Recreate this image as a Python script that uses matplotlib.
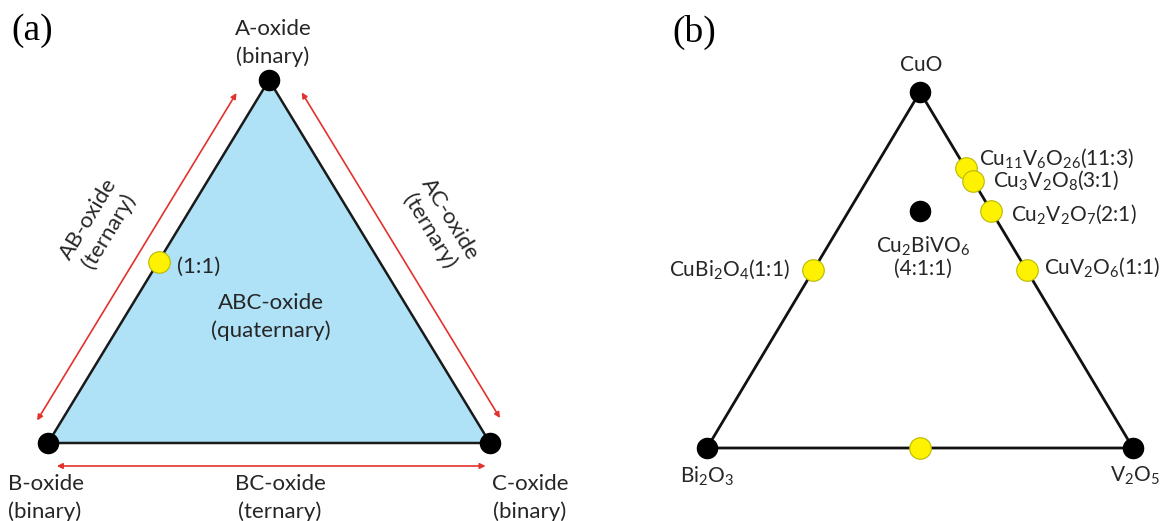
import numpy as np
import matplotlib
matplotlib.use("Agg")
import matplotlib.pyplot as plt
from matplotlib.patches import Polygon

plt.rcParams['font.family'] = ['Lato', 'DejaVu Sans']
plt.rcParams['mathtext.default'] = 'regular'

# panel (a): generic A-B-C oxide system
a_vertex_labels = ["A-oxide\n(binary)", "B-oxide\n(binary)", "C-oxide\n(binary)"]
a_edge_labels = ["AB-oxide\n(ternary)", "AC-oxide\n(ternary)", "BC-oxide\n(ternary)"]
a_center_label = "ABC-oxide\n(quaternary)"
a_point = (1, 1, 0)          # A:B:C
a_point_label = "(1:1)"

# panel (b): CuO - Bi2O3 - V2O5 (fractions CuO : Bi2O3 : V2O5)
b_vertex_labels = ["CuO", "Bi$_2$O$_3$", "V$_2$O$_5$"]
b_comps = [(11, 0, 3), (3, 0, 1), (2, 0, 1), (1, 0, 1), (1, 1, 0), (0, 1, 1)]
b_labels = [r"Cu$_{11}$V$_6$O$_{26}$(11:3)", r"Cu$_3$V$_2$O$_8$(3:1)",
            r"Cu$_2$V$_2$O$_7$(2:1)", r"CuV$_2$O$_6$(1:1)",
            r"CuBi$_2$O$_4$(1:1)", ""]
b_quat = (4, 1, 1)
b_quat_label = "Cu$_2$BiVO$_6$\n(4:1:1)"

H = np.sqrt(3) / 2
TXT = '#262626'
RED = '#E3312D'
YEL = '#FFF200'
FSA = 16
FSB = 15


def tern(comp):
    a, b, c = np.array(comp, dtype=float) / sum(comp)
    # a = top, b = bottom left, c = bottom right
    return np.array([c + 0.5 * a, a * H])


fig = plt.figure(figsize=(11.63, 5.21), dpi=100)
W, Hp = 1163, 521


def make_ax(x0, x1, ytop, ybot):
    ax = fig.add_axes([x0 / W, (Hp - ybot) / Hp, (x1 - x0) / W, (ybot - ytop) / Hp])
    ax.set_xlim(0, 1)
    ax.set_ylim(0, H)
    ax.axis('off')
    return ax


axa = make_ax(48, 490, 80, 443)
axb = make_ax(707, 1133, 92, 448)

verts = [tern((1, 0, 0)), tern((0, 1, 0)), tern((0, 0, 1))]


def px(ax, p):
    return ax.transData.transform(p)


def outward(ax, p0, p1):
    q0, q1 = px(ax, p0), px(ax, p1)
    d = (q1 - q0) / np.hypot(*(q1 - q0))
    n = np.array([-d[1], d[0]])
    cen = px(ax, tern((1, 1, 1)))
    if np.dot(n, (q0 + q1) / 2 - cen) < 0:
        n = -n
    return q0, q1, d, n


def edge_arrow(ax, p0, p1, t0, t1, off):
    q0, q1, d, n = outward(ax, p0, p1)
    s = q0 + (q1 - q0) * t0 + n * off
    e = q0 + (q1 - q0) * t1 + n * off
    ax.annotate('', xy=e, xytext=s, xycoords='figure pixels', textcoords='figure pixels',
                arrowprops=dict(arrowstyle='<|-|>', color=RED, lw=1.2,
                                mutation_scale=8, shrinkA=0, shrinkB=0))


# ---------- panel (a) ----------
axa.add_patch(Polygon(verts, closed=True, facecolor='#AFE2F6', edgecolor='#1a1a1a',
                      lw=1.8, clip_on=False, zorder=1))
for v in verts:
    axa.plot(*v, 'o', ms=14.5, color='black', clip_on=False, zorder=3)
pa = tern(a_point)
axa.plot(*pa, 'o', ms=15.5, mfc=YEL, mec='#B8B800', mew=0.8, clip_on=False, zorder=3)
axa.annotate(a_point_label, pa, xytext=(19, -5), textcoords='offset pixels',
             ha='left', va='center', fontsize=FSA, color=TXT)

A, B, C = verts
edge_arrow(axa, B, A, 0.032, 0.934, 21)
edge_arrow(axa, C, A, 0.038, 0.935, 21.5)
edge_arrow(axa, B, C, 0.02, 0.99, 23)

axa.annotate(a_vertex_labels[0], A, xytext=(4, 37), textcoords='offset pixels',
             ha='center', va='center', fontsize=FSA, color=TXT, linespacing=1.4)
axa.annotate(a_vertex_labels[1], B, xytext=(-40, -55), textcoords='offset pixels',
             ha='left', va='center', fontsize=FSA, color=TXT, linespacing=1.4)
axa.annotate(a_vertex_labels[2], C, xytext=(40, -55), textcoords='offset pixels',
             ha='center', va='center', fontsize=FSA, color=TXT, linespacing=1.4)
axa.annotate(a_edge_labels[2], (B + C) / 2, xytext=(11, -55), textcoords='offset pixels',
             ha='center', va='center', fontsize=FSA, color=TXT, linespacing=1.4)
axa.annotate(a_center_label, tern((1, 1, 1)), xytext=(2, 5), textcoords='offset pixels',
             ha='center', va='center', fontsize=FSA, color=TXT, linespacing=1.4)

for (p0, p1, lab) in [(B, A, a_edge_labels[0]), (A, C, a_edge_labels[1])]:
    q0, q1, d, n = outward(axa, p0, p1)
    ang = np.degrees(np.arctan2(d[1], d[0]))
    mid = (p0 + p1) / 2
    axa.annotate(lab, mid, xytext=tuple(n * 70), textcoords='offset pixels',
                 ha='center', va='center', rotation=ang, rotation_mode='anchor',
                 fontsize=FSA, color=TXT, linespacing=1.25)

# ---------- panel (b) ----------
axb.add_patch(Polygon(verts, closed=True, facecolor='none', edgecolor='#111111',
                      lw=2.0, clip_on=False, zorder=1))
for v in verts:
    axb.plot(*v, 'o', ms=14.5, color='black', clip_on=False, zorder=3)
pq = tern(b_quat)
axb.plot(*pq, 'o', ms=14.5, color='black', clip_on=False, zorder=3)
axb.annotate(b_quat_label, pq, xytext=(3, -46), textcoords='offset pixels',
             ha='center', va='center', fontsize=FSB, color=TXT, linespacing=1.1)

for comp in b_comps:
    axb.plot(*tern(comp), 'o', ms=15.5, mfc=YEL, mec='#B8B800', mew=0.8,
             clip_on=False, zorder=3)

b_offsets = [(13, 10), (20, 1), (20, -4), (17, 3), (-24, 1)]
for comp, lab, off in zip(b_comps, b_labels, b_offsets):
    axb.annotate(lab, tern(comp), xytext=off, textcoords='offset pixels',
                 ha='left' if off[0] > 0 else 'right', va='center',
                 fontsize=FSB, color=TXT)

axb.annotate(b_vertex_labels[0], verts[0], xytext=(1, 27), textcoords='offset pixels',
             ha='center', va='center', fontsize=FSB, color=TXT)
axb.annotate(b_vertex_labels[1], verts[1], xytext=(0, -28), textcoords='offset pixels',
             ha='center', va='center', fontsize=FSB, color=TXT)
axb.annotate(b_vertex_labels[2], verts[2], xytext=(2, -28), textcoords='offset pixels',
             ha='center', va='center', fontsize=FSB, color=TXT)

# panel letters
fig.text(32 / W, 1 - 31 / Hp, "(a)", family='Liberation Serif', fontsize=27,
         ha='center', va='center', color='black')
fig.text(694 / W, 1 - 32 / Hp, "(b)", family='Liberation Serif', fontsize=27,
         ha='center', va='center', color='black')

fig.savefig('out.png', dpi=100)
